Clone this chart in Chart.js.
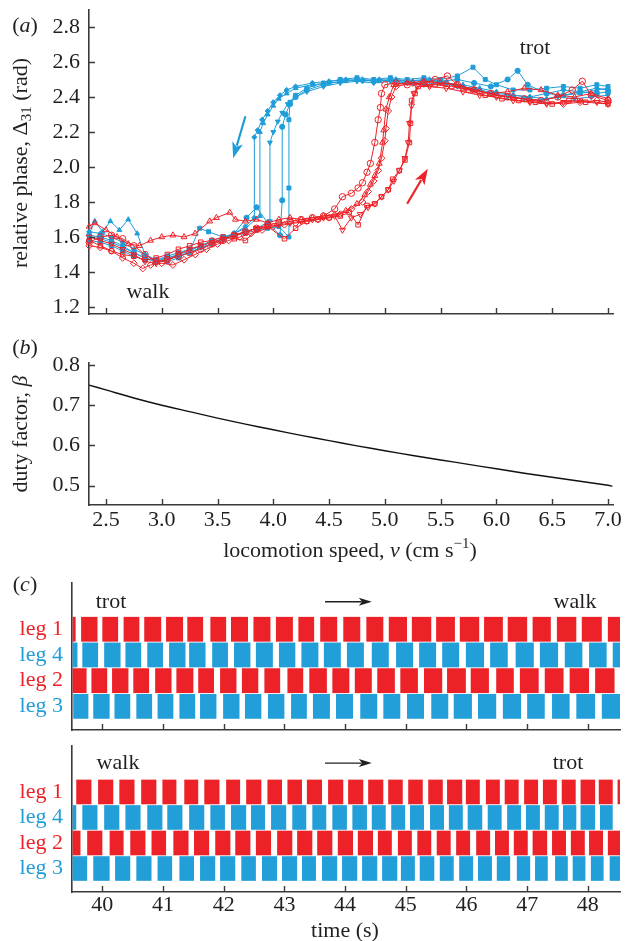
<!DOCTYPE html>
<html><head><meta charset="utf-8">
<script src="https://cdn.jsdelivr.net/npm/chart.js@4.4.1/dist/chart.umd.min.js"></script>
<style>
body{margin:0;background:#fff;width:626px;height:941px;position:relative;overflow:hidden;font-family:'Liberation Serif','Times New Roman',serif;color:#231f20}
canvas{position:absolute;left:0}
.t{position:absolute;font-size:22px;white-space:nowrap;line-height:1;transform:translate(-50%,-50%)}
.rot{transform:translate(-50%,-50%) rotate(-90deg)}
sub{font-size:15px;vertical-align:-4px;line-height:0}
sup{font-size:15px;vertical-align:9px;line-height:0}
</style></head><body>
<canvas id="ca" width="626" height="330" style="top:0px"></canvas>
<canvas id="cb" width="626" height="245" style="top:330px"></canvas>
<canvas id="cc" width="626" height="160" style="top:575px"></canvas>
<canvas id="cd" width="626" height="206" style="top:735px"></canvas>

<div class="t" style="left:25px;top:25px">(<i>a</i>)</div>
<div class="t rot" style="left:20px;top:163px">relative phase, Δ<sub>31</sub> (rad)</div>
<div class="t" style="left:535px;top:47px">trot</div>
<div class="t" style="left:148px;top:291px">walk</div>
<div class="t" style="left:25px;top:347px">(<i>b</i>)</div>
<div class="t rot" style="left:20px;top:434px">duty factor, <i>β</i></div>
<div class="t" style="left:350px;top:550px">locomotion speed, <i>v</i> (cm s<sup>−1</sup>)</div>
<div class="t" style="left:25px;top:584px">(<i>c</i>)</div>
<div class="t" style="left:111px;top:601px">trot</div>
<div class="t" style="left:575px;top:601px">walk</div>
<div class="t" style="left:118px;top:762px">walk</div>
<div class="t" style="left:568px;top:762px">trot</div>
<div class="t" style="left:345px;top:930px">time (s)</div>

<script>
// ---------- panel (a): relative phase vs speed (blue: decreasing speed, red: increasing) ----------
const blueDiamond = [[2.35,1.63],[2.45,1.62],[2.55,1.60],[2.65,1.57],[2.75,1.53],[2.85,1.50],[2.95,1.47],[3.05,1.48],[3.15,1.50],[3.25,1.52],[3.35,1.55],[3.45,1.57],[3.55,1.59],[3.65,1.62],[3.75,1.66],[3.83,1.71],[3.83,2.17],[3.86,2.21],[3.90,2.27],[3.95,2.32],[4.00,2.37],[4.06,2.41],[4.12,2.44],[4.20,2.46],[4.35,2.48],[4.50,2.49],[4.65,2.50],[4.80,2.49],[4.95,2.50],[5.10,2.49],[5.25,2.48],[5.40,2.49],[5.55,2.48],[5.70,2.46],[5.85,2.44],[6.00,2.42],[6.15,2.41],[6.30,2.40],[6.45,2.42],[6.60,2.44],[6.75,2.43],[6.90,2.45],[7.00,2.44]];
const blueTriangle = [[2.35,1.62],[2.40,1.69],[2.47,1.63],[2.54,1.69],[2.62,1.64],[2.70,1.70],[2.78,1.62],[2.85,1.50],[2.95,1.46],[3.05,1.48],[3.15,1.49],[3.25,1.51],[3.35,1.54],[3.45,1.56],[3.55,1.59],[3.65,1.62],[3.75,1.65],[3.88,1.72],[3.88,2.20],[3.91,2.25],[3.95,2.30],[4.00,2.35],[4.05,2.39],[4.12,2.42],[4.20,2.45],[4.35,2.47],[4.50,2.48],[4.65,2.49],[4.80,2.50],[4.95,2.49],[5.10,2.50],[5.25,2.49],[5.40,2.50],[5.55,2.48],[5.70,2.47],[5.85,2.45],[6.00,2.43],[6.15,2.41],[6.30,2.40],[6.45,2.39],[6.60,2.41],[6.75,2.42],[6.90,2.44],[7.00,2.45]];
const blueTriDown = [[2.35,1.60],[2.45,1.59],[2.55,1.57],[2.65,1.54],[2.75,1.51],[2.85,1.48],[2.95,1.46],[3.05,1.47],[3.15,1.49],[3.25,1.51],[3.35,1.54],[3.45,1.56],[3.55,1.58],[3.65,1.61],[3.75,1.63],[3.85,1.65],[3.97,1.69],[3.97,2.14],[4.00,2.20],[4.04,2.26],[4.08,2.31],[4.13,2.36],[4.20,2.40],[4.30,2.43],[4.45,2.46],[4.60,2.48],[4.75,2.49],[4.90,2.48],[5.05,2.49],[5.20,2.48],[5.35,2.47],[5.50,2.48],[5.65,2.46],[5.80,2.44],[5.95,2.42],[6.10,2.40],[6.25,2.39],[6.40,2.38],[6.55,2.40],[6.70,2.39],[6.85,2.40],[7.00,2.41]];
const blueCircle = [[2.35,1.58],[2.45,1.57],[2.55,1.55],[2.65,1.52],[2.75,1.49],[2.85,1.47],[2.95,1.47],[3.05,1.49],[3.15,1.51],[3.25,1.53],[3.35,1.55],[3.45,1.58],[3.55,1.60],[3.65,1.62],[3.76,1.71],[3.85,1.77],[3.95,1.68],[4.06,1.61],[4.08,1.81],[4.08,2.23],[4.11,2.30],[4.15,2.36],[4.20,2.40],[4.30,2.44],[4.45,2.47],[4.60,2.49],[4.75,2.50],[4.90,2.49],[5.05,2.50],[5.20,2.49],[5.35,2.50],[5.50,2.49],[5.65,2.50],[5.80,2.48],[5.95,2.46],[6.10,2.50],[6.19,2.55],[6.28,2.47],[6.45,2.42],[6.60,2.41],[6.75,2.43],[6.90,2.42],[7.00,2.43]];
const blueSquare = [[2.35,1.61],[2.45,1.60],[2.55,1.58],[2.65,1.55],[2.75,1.51],[2.85,1.48],[2.95,1.46],[3.05,1.46],[3.15,1.48],[3.25,1.52],[3.34,1.65],[3.42,1.63],[3.55,1.60],[3.65,1.61],[3.75,1.62],[3.85,1.64],[3.95,1.65],[4.05,1.66],[4.14,1.60],[4.14,1.88],[4.14,2.27],[4.15,2.37],[4.20,2.41],[4.30,2.45],[4.45,2.48],[4.60,2.50],[4.75,2.51],[4.90,2.50],[5.05,2.51],[5.20,2.50],[5.35,2.51],[5.50,2.50],[5.65,2.52],[5.79,2.57],[5.90,2.50],[6.00,2.47],[6.15,2.44],[6.30,2.44],[6.45,2.45],[6.60,2.46],[6.75,2.45],[6.90,2.47],[7.00,2.46]];
const redCircle = [[2.35,1.57],[2.45,1.60],[2.55,1.61],[2.65,1.59],[2.75,1.55],[2.85,1.50],[2.95,1.46],[3.05,1.47],[3.15,1.49],[3.25,1.51],[3.35,1.53],[3.45,1.56],[3.55,1.58],[3.65,1.61],[3.75,1.63],[3.85,1.65],[3.95,1.67],[4.05,1.68],[4.15,1.69],[4.25,1.70],[4.35,1.71],[4.45,1.72],[4.55,1.76],[4.62,1.83],[4.70,1.85],[4.76,1.88],[4.80,1.91],[4.84,1.97],[4.87,2.02],[4.91,2.14],[4.94,2.27],[4.96,2.34],[4.97,2.42],[5.00,2.47],[5.10,2.48],[5.20,2.47],[5.35,2.48],[5.45,2.50],[5.56,2.52],[5.65,2.47],[5.80,2.44],[5.95,2.42],[6.10,2.40],[6.25,2.39],[6.40,2.38],[6.55,2.40],[6.68,2.44],[6.77,2.49],[6.85,2.41],[7.00,2.38]];
const redSquare = [[2.35,1.58],[2.45,1.55],[2.55,1.52],[2.65,1.50],[2.75,1.49],[2.85,1.47],[2.95,1.48],[3.05,1.50],[3.15,1.53],[3.25,1.55],[3.35,1.57],[3.45,1.58],[3.55,1.60],[3.65,1.59],[3.75,1.58],[3.85,1.64],[3.95,1.66],[4.10,1.59],[4.20,1.65],[4.30,1.69],[4.40,1.70],[4.50,1.71],[4.60,1.72],[4.68,1.74],[4.76,1.67],[4.84,1.78],[4.91,1.79],[4.97,1.83],[5.03,1.87],[5.07,1.93],[5.13,1.98],[5.18,2.04],[5.22,2.14],[5.23,2.25],[5.24,2.38],[5.27,2.42],[5.30,2.46],[5.45,2.47],[5.60,2.46],[5.75,2.44],[5.90,2.41],[6.05,2.39],[6.20,2.38],[6.35,2.37],[6.50,2.36],[6.65,2.38],[6.80,2.37],[7.00,2.36]];
const redTriangle = [[2.35,1.66],[2.40,1.68],[2.50,1.64],[2.60,1.60],[2.70,1.56],[2.80,1.55],[2.90,1.58],[3.00,1.60],[3.10,1.61],[3.20,1.60],[3.30,1.62],[3.43,1.69],[3.49,1.71],[3.61,1.74],[3.66,1.70],[3.75,1.69],[3.85,1.70],[3.95,1.68],[4.05,1.70],[4.15,1.71],[4.25,1.70],[4.35,1.71],[4.45,1.72],[4.55,1.73],[4.65,1.75],[4.75,1.79],[4.82,1.84],[4.87,1.90],[4.91,1.95],[4.95,2.02],[4.98,2.14],[4.99,2.21],[5.01,2.33],[5.04,2.40],[5.08,2.47],[5.20,2.48],[5.35,2.49],[5.50,2.48],[5.65,2.47],[5.80,2.44],[5.95,2.42],[6.10,2.43],[6.25,2.45],[6.40,2.44],[6.55,2.41],[6.70,2.40],[6.85,2.42],[7.00,2.39]];
const redDiamond = [[2.35,1.55],[2.45,1.54],[2.55,1.52],[2.65,1.48],[2.75,1.45],[2.83,1.42],[2.90,1.44],[3.00,1.45],[3.10,1.44],[3.20,1.47],[3.30,1.50],[3.40,1.53],[3.50,1.56],[3.60,1.58],[3.70,1.60],[3.80,1.62],[3.90,1.64],[4.00,1.66],[4.10,1.67],[4.20,1.68],[4.30,1.69],[4.40,1.70],[4.50,1.71],[4.60,1.73],[4.70,1.76],[4.80,1.80],[4.85,1.86],[4.90,1.92],[4.94,1.98],[4.97,2.05],[5.00,2.15],[5.01,2.22],[5.03,2.32],[5.06,2.40],[5.10,2.46],[5.25,2.48],[5.40,2.47],[5.55,2.48],[5.70,2.45],[5.85,2.43],[6.00,2.41],[6.15,2.40],[6.30,2.38],[6.45,2.37],[6.60,2.36],[6.75,2.37],[6.90,2.38],[7.00,2.37]];
const redTriDown = [[2.35,1.60],[2.45,1.58],[2.55,1.56],[2.65,1.53],[2.75,1.50],[2.85,1.46],[2.95,1.45],[3.05,1.47],[3.15,1.50],[3.25,1.53],[3.35,1.55],[3.45,1.57],[3.55,1.59],[3.65,1.61],[3.75,1.63],[3.85,1.65],[3.95,1.66],[4.05,1.67],[4.15,1.68],[4.25,1.69],[4.35,1.70],[4.45,1.71],[4.55,1.72],[4.62,1.64],[4.70,1.71],[4.78,1.73],[4.85,1.77],[4.91,1.79],[4.97,1.83],[5.03,1.87],[5.08,1.92],[5.13,1.98],[5.18,2.05],[5.21,2.14],[5.22,2.25],[5.24,2.35],[5.26,2.42],[5.29,2.46],[5.40,2.46],[5.55,2.45],[5.70,2.43],[5.85,2.41],[6.00,2.40],[6.15,2.38],[6.30,2.37],[6.45,2.36],[6.60,2.37],[6.75,2.38],[6.90,2.37],[7.00,2.36]];
const phaseTicks = [1.2,1.4,1.6,1.8,2.0,2.2,2.4,2.6,2.8];
const speedTicks = [2.5,3.0,3.5,4.0,4.5,5.0,5.5,6.0,6.5,7.0];

// ---------- panel (b): duty factor ----------
const speedB = [2.35,2.5,2.75,3.0,3.25,3.5,3.75,4.0,4.25,4.5,4.75,5.0,5.25,5.5,5.75,6.0,6.25,6.5,6.75,7.0,7.04];
const dutyB  = [0.750,0.738,0.718,0.700,0.684,0.668,0.653,0.639,0.625,0.612,0.599,0.587,0.575,0.564,0.553,0.542,0.531,0.521,0.511,0.501,0.499];
const dutyTicks = [0.5,0.6,0.7,0.8];

// ---------- panel (c): stance intervals (s) ----------
const legNames = ['leg 1','leg 4','leg 2','leg 3'];
const timeTicks = [40,41,42,43,44,45,46,47,48];
const topLeg1 = [[39.51,39.56],[39.65,39.92],[40.00,40.26],[40.35,40.61],[40.69,40.97],[41.05,41.33],[41.40,41.66],[41.78,42.04],[42.12,42.40],[42.49,42.77],[42.86,43.14],[43.23,43.49],[43.59,43.87],[43.97,44.25],[44.35,44.63],[44.72,45.02],[45.10,45.42],[45.50,45.81],[45.89,46.21],[46.29,46.60],[46.68,47.00],[47.09,47.39],[47.49,47.81],[47.90,48.23],[48.33,48.53]];
const topLeg4 = [[39.51,39.59],[39.67,39.93],[40.03,40.30],[40.38,40.64],[40.74,41.00],[41.10,41.37],[41.43,41.70],[41.81,42.07],[42.17,42.44],[42.53,42.81],[42.91,43.18],[43.28,43.56],[43.65,43.93],[44.03,44.31],[44.44,44.72],[44.84,45.12],[45.22,45.50],[45.60,45.88],[45.99,46.29],[46.39,46.68],[46.81,47.11],[47.21,47.51],[47.62,47.91],[48.02,48.31],[48.41,48.53]];
const topLeg2 = [[39.51,39.74],[39.82,40.08],[40.16,40.43],[40.51,40.77],[40.87,41.14],[41.22,41.50],[41.58,41.84],[41.94,42.21],[42.30,42.57],[42.67,42.93],[43.05,43.31],[43.41,43.70],[43.79,44.07],[44.16,44.44],[44.53,44.82],[44.91,45.20],[45.30,45.60],[45.68,45.99],[46.07,46.37],[46.49,46.78],[46.88,47.19],[47.29,47.60],[47.70,48.02],[48.12,48.44]];
const topLeg3 = [[39.52,39.77],[39.85,40.12],[40.20,40.46],[40.56,40.82],[40.91,41.17],[41.27,41.53],[41.61,41.88],[41.99,42.26],[42.35,42.62],[42.73,43.00],[43.11,43.37],[43.47,43.75],[43.85,44.13],[44.25,44.53],[44.63,44.91],[45.02,45.30],[45.42,45.70],[45.79,46.09],[46.19,46.49],[46.60,46.90],[47.00,47.29],[47.41,47.70],[47.81,48.12],[48.23,48.53]];
const botLeg1 = [[39.57,39.82],[39.93,40.18],[40.28,40.53],[40.64,40.89],[40.99,41.22],[41.35,41.58],[41.68,41.93],[42.04,42.27],[42.37,42.62],[42.72,42.96],[43.05,43.29],[43.37,43.62],[43.72,43.97],[44.05,44.30],[44.38,44.63],[44.71,44.95],[45.04,45.28],[45.37,45.61],[45.68,45.93],[45.99,46.22],[46.32,46.55],[46.63,46.86],[46.95,47.18],[47.26,47.49],[47.57,47.80],[47.88,48.12],[48.18,48.41],[48.49,48.53]];
const botLeg4 = [[39.51,39.57],[39.67,39.92],[40.03,40.28],[40.38,40.63],[40.74,40.99],[41.07,41.32],[41.43,41.68],[41.78,42.02],[42.12,42.37],[42.45,42.68],[42.78,43.03],[43.13,43.36],[43.46,43.69],[43.79,44.03],[44.12,44.36],[44.44,44.67],[44.76,44.99],[45.07,45.30],[45.40,45.63],[45.71,45.94],[46.02,46.26],[46.35,46.58],[46.67,46.90],[46.98,47.21],[47.29,47.52],[47.59,47.81],[47.88,48.12],[48.20,48.41]];
const botLeg2 = [[39.51,39.64],[39.75,40.00],[40.12,40.35],[40.46,40.71],[40.81,41.05],[41.17,41.42],[41.51,41.76],[41.86,42.11],[42.19,42.44],[42.53,42.78],[42.88,43.13],[43.21,43.46],[43.54,43.79],[43.88,44.13],[44.21,44.46],[44.54,44.77],[44.87,45.10],[45.19,45.42],[45.51,45.74],[45.83,46.06],[46.16,46.39],[46.47,46.70],[46.78,47.01],[47.09,47.33],[47.41,47.64],[47.72,47.95],[48.02,48.25],[48.33,48.53]];
const botLeg3 = [[39.51,39.75],[39.85,40.12],[40.21,40.46],[40.56,40.81],[40.91,41.15],[41.27,41.51],[41.61,41.86],[41.94,42.19],[42.29,42.53],[42.63,42.88],[42.96,43.21],[43.29,43.52],[43.62,43.87],[43.95,44.20],[44.28,44.53],[44.61,44.86],[44.92,45.15],[45.23,45.47],[45.56,45.79],[45.88,46.11],[46.19,46.42],[46.50,46.72],[46.83,47.05],[47.13,47.34],[47.46,47.67],[47.75,47.96],[48.05,48.26],[48.36,48.53]];

// ---------- styling ----------
const RED = '#ed2228', BLUE = '#1f9dd9', BAR_BLUE = '#229fd9', AX = '#3a3a3a', TXT = '#231f20';
const FONT = {family: "'Liberation Serif','Times New Roman',serif", size: 22};
const legColors = [RED, BLUE, RED, BLUE];

const ARROWS = {
  a: [{from:[3.75,2.29], to:[3.64,2.05], color:BLUE, w:2.2, hl:16, hw:11},
      {from:[5.20,1.79], to:[5.385,1.99], color:RED, w:2.2, hl:16, hw:11}],
  c: [{from:[43.67,-0.07], to:[44.44,-0.07], color:'#231f20', w:1.4, hl:13, hw:8}],
  d: [{from:[43.67,-0.13], to:[44.44,-0.13], color:'#231f20', w:1.4, hl:13, hw:8}]
};

const innerTicks = {
  id: 'innerTicks',
  afterDraw(chart, args, o) {
    if (!o || !o.on) return;
    const {ctx, chartArea: ca, scales} = chart;
    ctx.save(); ctx.strokeStyle = AX; ctx.lineWidth = 1.4; ctx.beginPath();
    if (o.x) scales.x.ticks.forEach(t => { const p = Math.round(scales.x.getPixelForValue(t.value)) + 0.5; ctx.moveTo(p, ca.bottom); ctx.lineTo(p, ca.bottom - o.len); });
    if (o.y) scales.y.ticks.forEach(t => { const p = Math.round(scales.y.getPixelForValue(t.value)) + 0.5; ctx.moveTo(ca.left, p); ctx.lineTo(ca.left + o.len, p); });
    ctx.stroke(); ctx.restore();
  }
};
const arrowPlugin = {
  id: 'arrowNotes',
  afterDraw(chart, args, o) {
    const list = ARROWS[chart.canvas.id.slice(1)];
    if (!list) return;
    const {ctx, scales} = chart;
    list.forEach(a => {
      const x1 = scales.x.getPixelForValue(a.from[0]), y1 = scales.y.getPixelForValue(a.from[1]);
      const x2 = scales.x.getPixelForValue(a.to[0]), y2 = scales.y.getPixelForValue(a.to[1]);
      const ang = Math.atan2(y2 - y1, x2 - x1);
      const bx = x2 - a.hl * Math.cos(ang), by = y2 - a.hl * Math.sin(ang);
      ctx.save(); ctx.strokeStyle = a.color; ctx.fillStyle = a.color; ctx.lineWidth = a.w;
      ctx.beginPath(); ctx.moveTo(x1, y1); ctx.lineTo(bx + 3*Math.cos(ang), by + 3*Math.sin(ang)); ctx.stroke();
      const nx = -Math.sin(ang), ny = Math.cos(ang);
      ctx.beginPath(); ctx.moveTo(x2, y2);
      ctx.lineTo(bx + nx * a.hw / 2, by + ny * a.hw / 2);
      ctx.lineTo(bx + 0.25 * a.hl * Math.cos(ang), by + 0.25 * a.hl * Math.sin(ang));
      ctx.lineTo(bx - nx * a.hw / 2, by - ny * a.hw / 2);
      ctx.closePath(); ctx.fill(); ctx.restore();
    });
  }
};
Chart.register(innerTicks, arrowPlugin);

const fixTicks = list => scale => { scale.ticks = list.map(v => ({value: v})); };
const noPad = s => { s.paddingTop = 0; s.paddingBottom = 0; s.paddingLeft = 0; s.paddingRight = 0; };
const fitW = w => s => { s.width = w; noPad(s); };
const fitH = h => s => { s.height = h; noPad(s); };
const base = {responsive: false, animation: false, events: [], plugins: {legend: {display: false}, tooltip: {enabled: false}}};

// ---------- chart (a) ----------
function sc(data, color, style, filled, rot, r) {
  return {data: data.map(p => ({x: p[0], y: p[1]})), showLine: true, borderColor: color, borderWidth: 1,
    pointStyle: style, pointRotation: rot || 0, pointRadius: r, pointBorderWidth: 1,
    pointBorderColor: color, pointBackgroundColor: filled ? color : 'rgba(255,255,255,0)', clip: false};
}
new Chart(document.getElementById('ca'), {
  type: 'scatter',
  data: {datasets: [
    sc(redCircle, RED, 'circle', false, 0, 3.2),
    sc(redSquare, RED, 'rect', false, 0, 3.2),
    sc(redTriangle, RED, 'triangle', false, 0, 3.4),
    sc(redDiamond, RED, 'rectRot', false, 0, 3.4),
    sc(redTriDown, RED, 'triangle', false, 180, 3.4),
    sc(blueCircle, BLUE, 'circle', true, 0, 2.6),
    sc(blueSquare, BLUE, 'rect', true, 0, 2.8),
    sc(blueTriangle, BLUE, 'triangle', true, 0, 2.8),
    sc(blueDiamond, BLUE, 'rectRot', true, 0, 2.6),
    sc(blueTriDown, BLUE, 'triangle', true, 180, 2.8)
  ]},
  options: {...base,
    layout: {padding: {top: 10, right: 13, left: 0, bottom: 0}},
    plugins: {...base.plugins, innerTicks: {on: true, x: true, y: true, len: 6}},
    scales: {
      x: {type: 'linear', min: 2.348, max: 7.045, afterBuildTicks: fixTicks(speedTicks),
        ticks: {display: false}, grid: {display: false}, border: {color: AX, width: 1.6},
        afterFit: fitH(16)},
      y: {type: 'linear', min: 1.16, max: 2.897, afterBuildTicks: fixTicks(phaseTicks),
        ticks: {font: FONT, color: TXT, padding: 9, callback: v => v.toFixed(1)},
        grid: {display: false, drawTicks: false}, border: {color: AX, width: 1.6},
        afterFit: fitW(89)}
    }}
});

// ---------- chart (b) ----------
new Chart(document.getElementById('cb'), {
  type: 'line',
  data: {datasets: [{data: speedB.map((v, i) => ({x: v, y: dutyB[i]})), borderColor: '#111', borderWidth: 1.4,
    pointRadius: 0, tension: 0.3, fill: false}]},
  options: {...base,
    layout: {padding: {top: 33, right: 13, left: 0, bottom: 0}},
    plugins: {...base.plugins, innerTicks: {on: true, x: true, y: true, len: 6}},
    scales: {
      x: {type: 'linear', min: 2.348, max: 7.045, afterBuildTicks: fixTicks(speedTicks),
        ticks: {font: FONT, color: TXT, padding: 2, maxRotation: 0, autoSkip: false, callback: v => v.toFixed(1)},
        grid: {display: false, drawTicks: false}, border: {color: AX, width: 1.6},
        afterFit: fitH(70)},
      y: {type: 'linear', min: 0.452, max: 0.805, afterBuildTicks: fixTicks(dutyTicks),
        ticks: {font: FONT, color: TXT, padding: 9, callback: v => v.toFixed(1)},
        grid: {display: false, drawTicks: false}, border: {color: AX, width: 1.6},
        afterFit: fitW(89)}
    }}
});

// ---------- charts (c) ----------
function gait(id, legs, padTop, xHeight, showLabels) {
  const datasets = legs.map((arr, i) => ({
    data: arr.map(iv => ({x: iv, y: i + 1})),
    backgroundColor: i % 2 === 0 ? RED : BAR_BLUE, borderWidth: 0, borderSkipped: false,
    grouped: false, categoryPercentage: 1, barPercentage: 0.965
  }));
  return new Chart(document.getElementById(id), {
    type: 'bar',
    data: {datasets},
    options: {...base, indexAxis: 'y',
      layout: {padding: {top: padTop, right: 6, left: 0, bottom: 0}},
      plugins: {...base.plugins, innerTicks: {on: true, x: true, y: false, len: 6}},
      scales: {
        x: {type: 'linear', offset: false, min: 39.5, max: 48.53, afterBuildTicks: fixTicks(timeTicks),
          ticks: {display: showLabels, font: FONT, color: TXT, padding: 0, maxRotation: 0, autoSkip: false},
          grid: {display: false, drawTicks: false, offset: false}, border: {color: AX, width: 1.6},
          afterFit: fitH(xHeight)},
        y: {type: 'linear', offset: false, reverse: true, min: -0.8, max: 4.92, afterBuildTicks: fixTicks([1,2,3,4]),
          ticks: {font: FONT, padding: 9, color: c => legColors[(c.tick ? c.tick.value : 1) - 1], callback: v => legNames[v - 1]},
          grid: {display: false, drawTicks: false, offset: false}, border: {color: AX, width: 1.6},
          afterFit: fitW(72)}
      }}
  });
}
gait('cc', [topLeg1, topLeg4, topLeg2, topLeg3], 8, 5, false);
gait('cd', [botLeg1, botLeg4, botLeg2, botLeg3], 11, 49, true);
</script>
</body></html>
